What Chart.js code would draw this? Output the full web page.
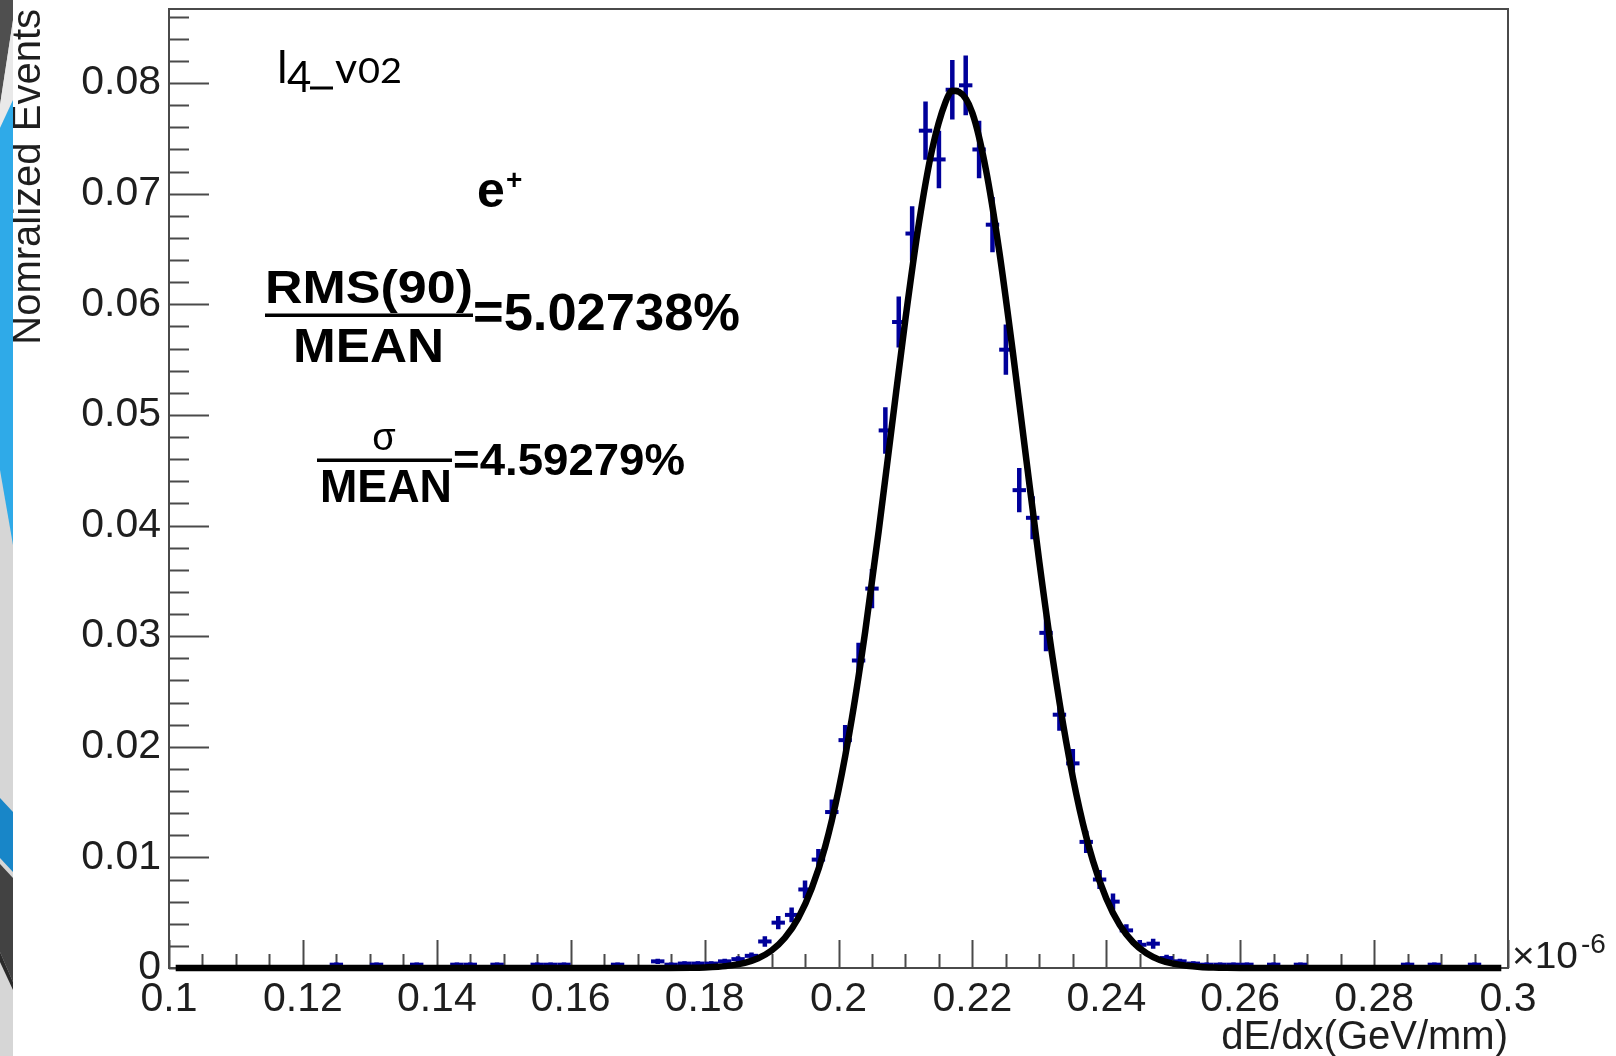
<!DOCTYPE html>
<html>
<head>
<meta charset="utf-8">
<title>dE/dx e+ l4_v02</title>
<script src="https://cdn.jsdelivr.net/npm/chart.js@4.4.1/dist/chart.umd.min.js"></script>
<style>
  html, body { margin: 0; padding: 0; background: #fff; }
  #wrap { position: relative; width: 1616px; height: 1056px; }
  #deco { position: absolute; left: 0; top: 0; }
</style>
</head>
<body>
<div id="wrap">
  <canvas id="myChart" width="1616" height="1056"></canvas>
  <!-- slide background strip on the left -->
  <svg id="deco" width="13" height="1056">
    <rect x="0" y="0" width="13" height="1056" fill="#d6d6d6"/>
    <polygon points="0,0 13,0 13,20 0,105" fill="#4f4f4f"/>
    <polygon points="13,20 13,100 0,128 0,105" fill="#e9e9e9"/>
    <polygon points="13,100 13,545 0,470 0,128" fill="#2faae8"/>
    <polygon points="0,798 13,812 13,872 0,858" fill="#1886c8"/>
    <polygon points="0,864 13,878 13,982 0,952" fill="#424242"/>
    <polygon points="0,952 13,982 13,990 0,962" fill="#2b2b2b"/>
  </svg>
</div>
<script>
// histogram bins (bin width 0.002, x in 10^-6 GeV/mm), only non-empty bins
const binCenters = [0.125, 0.131, 0.137, 0.143, 0.145, 0.149, 0.155, 0.157, 0.159, 0.167,
  0.173, 0.175, 0.177, 0.179, 0.181, 0.183, 0.185, 0.187, 0.189, 0.191,
  0.193, 0.195, 0.197, 0.199, 0.201, 0.203, 0.205, 0.207, 0.209, 0.211,
  0.213, 0.215, 0.217, 0.219, 0.221, 0.223, 0.225, 0.227, 0.229, 0.231,
  0.233, 0.235, 0.237, 0.239, 0.241, 0.243, 0.245, 0.247, 0.249, 0.251,
  0.253, 0.255, 0.257, 0.259, 0.261, 0.265, 0.269, 0.285, 0.289, 0.295];
const binValues = [0.0003, 0.0003, 0.0003, 0.0003, 0.0003, 0.0003, 0.0003, 0.0003, 0.0003, 0.0003,
  0.0006, 0.0003, 0.0004, 0.0004, 0.0004, 0.0006, 0.0008, 0.0011, 0.0024, 0.0041,
  0.0048, 0.0071, 0.0098, 0.0141, 0.0206, 0.0278, 0.0343, 0.0486, 0.0584, 0.0664,
  0.0757, 0.0731, 0.0794, 0.0798, 0.0740, 0.0672, 0.0559, 0.0432, 0.0407, 0.0303,
  0.0229, 0.0185, 0.0114, 0.0080, 0.0060, 0.0034, 0.0021, 0.0022, 0.0009, 0.0006,
  0.0004, 0.0003, 0.0003, 0.0003, 0.0003, 0.0003, 0.0003, 0.0003, 0.0003, 0.0003];
const binErrors = [0.0002, 0.0002, 0.0002, 0.0002, 0.0002, 0.0002, 0.0002, 0.0002, 0.0002, 0.0002,
  0.00023, 0.0002, 0.0002, 0.0002, 0.0002, 0.00023, 0.00027, 0.0003, 0.00047, 0.0006,
  0.00066, 0.0008, 0.00095, 0.00114, 0.00138, 0.0016, 0.00178, 0.0021, 0.0023, 0.00247,
  0.00264, 0.0026, 0.0027, 0.0027, 0.0026, 0.0025, 0.00227, 0.002, 0.00194, 0.00167,
  0.00145, 0.0013, 0.001, 0.00086, 0.00074, 0.00056, 0.00044, 0.00045, 0.00029, 0.00023,
  0.0002, 0.0002, 0.0002, 0.0002, 0.0002, 0.0002, 0.0002, 0.0002, 0.0002, 0.0002];

// gaussian fit curve
const fitX = [0.101, 0.170, 0.174, 0.178, 0.180, 0.182, 0.184, 0.186, 0.188, 0.190,
  0.192, 0.194, 0.196, 0.198, 0.200, 0.202, 0.204, 0.206, 0.208, 0.210,
  0.212, 0.214, 0.216, 0.217, 0.218, 0.220, 0.222, 0.224, 0.226, 0.228,
  0.230, 0.232, 0.234, 0.236, 0.238, 0.240, 0.242, 0.244, 0.246, 0.248,
  0.250, 0.252, 0.254, 0.256, 0.258, 0.260, 0.264, 0.299];
const fitY = [0, 0, 0.000005, 0.000025, 0.000056, 0.00012, 0.00024, 0.00047, 0.00088, 0.00158,
  0.00273, 0.00452, 0.00719, 0.01096, 0.01606, 0.02258, 0.03047, 0.03949, 0.04913, 0.05868,
  0.06728, 0.07405, 0.0783, 0.0793, 0.0792, 0.07729, 0.07225, 0.06485, 0.05587, 0.04622,
  0.0367, 0.02797, 0.02048, 0.01438, 0.0097, 0.00628, 0.0039, 0.00233, 0.00133, 0.00073,
  0.00039, 0.0002, 0.000095, 0.000045, 0.00002, 0.000009, 0.000001, 0];

const xTickValues = [0.1, 0.12, 0.14, 0.16, 0.18, 0.2, 0.22, 0.24, 0.26, 0.28, 0.3];
const yTickValues = [0, 0.01, 0.02, 0.03, 0.04, 0.05, 0.06, 0.07, 0.08];

const FONT = "'Liberation Sans', Arial, Helvetica, sans-serif";
const BLUE = '#00009a';
const AXIS = '#4a4a4a';
const TEXT = '#1e1e1e';

Chart.defaults.font.family = FONT;

// text with horizontal stretch to a target width (ROOT latex look)
function txt(ctx, s, x, y, font, align, w) {
  ctx.save();
  ctx.font = font;
  ctx.textBaseline = 'alphabetic';
  ctx.textAlign = align;
  const m = ctx.measureText(s).width;
  ctx.translate(x, y);
  ctx.scale(w ? w / m : 1, 1);
  ctx.fillText(s, 0, 0);
  ctx.restore();
}

const rootStyle = {
  id: 'rootStyle',
  beforeDatasetsDraw(chart) {
    const { ctx, chartArea: a, scales: { x, y } } = chart;
    ctx.save();
    ctx.strokeStyle = AXIS;
    ctx.lineWidth = 2;
    ctx.strokeRect(a.left, a.top, a.right - a.left, a.bottom - a.top);

    // inward ticks, major + minor
    ctx.beginPath();
    for (let i = 0; i <= 43; i++) {
      const py = Math.round(y.getPixelForValue(i * 0.002)) + 0.5;
      ctx.moveTo(a.left, py);
      ctx.lineTo(a.left + (i % 5 === 0 ? 40 : 20), py);
    }
    for (let i = 0; i <= 40; i++) {
      const px = Math.round(x.getPixelForValue(0.1 + i * 0.005)) + 0.5;
      ctx.moveTo(px, a.bottom);
      ctx.lineTo(px, a.bottom - (i % 4 === 0 ? 28 : 14));
    }
    ctx.stroke();

    // vertical error bars
    ctx.beginPath();
    ctx.rect(a.left, a.top, a.right - a.left, a.bottom - a.top);
    ctx.clip();
    ctx.strokeStyle = BLUE;
    ctx.lineWidth = 4.5;
    ctx.beginPath();
    binCenters.forEach((c, i) => {
      const px = x.getPixelForValue(c);
      ctx.moveTo(px, y.getPixelForValue(binValues[i] - binErrors[i]));
      ctx.lineTo(px, y.getPixelForValue(binValues[i] + binErrors[i]));
    });
    ctx.stroke();
    ctx.restore();
  },
  afterDraw(chart) {
    const { ctx } = chart;
    ctx.save();
    ctx.fillStyle = '#000';

    // l4_v02 (slide label)
    const LATO = "Lato, 'Open Sans', sans-serif";
    txt(ctx, 'l', 277, 83, '45px ' + LATO, 'left');
    txt(ctx, '4', 287, 92, '42px ' + LATO, 'left');
    ctx.fillRect(310, 86.5, 23, 3);
    txt(ctx, 'v', 335, 83, '43px ' + LATO, 'left');
    txt(ctx, '02', 358, 83, '34px ' + LATO, 'left', 44);

    // e+
    txt(ctx, 'e', 477, 207, 'bold 50px ' + FONT, 'left');
    txt(ctx, '+', 506, 189, 'bold 28px ' + FONT, 'left');

    // RMS(90)/MEAN
    txt(ctx, 'RMS(90)', 369, 303, 'bold 47px ' + FONT, 'center', 208);
    ctx.fillRect(265, 313.5, 208, 3.5);
    txt(ctx, 'MEAN', 368.5, 362, 'bold 48px ' + FONT, 'center', 151);
    txt(ctx, '=5.02738%', 473, 330, 'bold 51px ' + FONT, 'left', 267);

    // sigma/MEAN
    txt(ctx, 'σ', 384, 450, '38px ' + FONT, 'center');
    ctx.fillRect(317, 458.5, 135, 3.5);
    txt(ctx, 'MEAN', 386, 502, 'bold 46px ' + FONT, 'center', 132);
    txt(ctx, '=4.59279%', 453, 475, 'bold 45px ' + FONT, 'left', 232);

    // axis exponent
    ctx.fillStyle = TEXT;
    txt(ctx, '×10', 1512, 968, '36px ' + FONT, 'left', 66);
    txt(ctx, '-6', 1581, 953, '28px ' + FONT, 'left');
    ctx.restore();
  }
};

const chartArea = document.getElementById('myChart').getContext('2d');

new Chart(chartArea, {
  type: 'scatter',
  data: {
    datasets: [
      {
        // fit curve on top
        label: 'fit',
        data: fitX.map((v, i) => ({ x: v, y: fitY[i] })),
        showLine: true,
        borderColor: '#000',
        borderWidth: 6.5,
        pointRadius: 0,
        cubicInterpolationMode: 'monotone',
        clip: 8,
      },
      {
        label: 'dE/dx',
        data: binCenters.map((v, i) => ({ x: v, y: binValues[i] })),
        showLine: false,
        pointStyle: 'line',
        pointRadius: (c) => {
          const sx = c.chart.scales.x;
          return (sx.getPixelForValue(0.102) - sx.getPixelForValue(0.1)) / 2;
        },
        pointBorderWidth: 4,
        pointBorderColor: BLUE,
        pointBackgroundColor: BLUE,
        clip: 4,
      },
    ],
  },
  options: {
    responsive: false,
    devicePixelRatio: 1,
    animation: false,
    layout: { padding: { left: 0, right: 108, top: 9, bottom: 0 } },
    plugins: {
      legend: { display: false },
      tooltip: { enabled: false },
    },
    scales: {
      x: {
        type: 'linear',
        position: 'bottom',
        min: 0.1,
        max: 0.3,
        grid: { display: false, drawTicks: false },
        border: { display: false },
        ticks: {
          stepSize: 0.02,
          includeBounds: false,
          autoSkip: false,
          maxRotation: 0,
          padding: 7,
          color: TEXT,
          font: { size: 41 },
          callback: (v) => String(+Number(v).toFixed(3)),
        },
        afterBuildTicks: (s) => { s.ticks = xTickValues.map((v) => ({ value: v })); },
        title: {
          display: true,
          text: 'dE/dx(GeV/mm)',
          align: 'end',
          color: TEXT,
          font: { size: 40, lineHeight: 0.9 },
          padding: { top: 0, bottom: 0 },
        },
        afterFit: (s) => { s.height = 88; s.paddingLeft = 0; s.paddingRight = 0; },
      },
      y: {
        type: 'linear',
        min: 0,
        max: 0.0867,
        grid: { display: false, drawTicks: false },
        border: { display: false },
        ticks: {
          stepSize: 0.01,
          includeBounds: false,
          autoSkip: false,
          padding: 8,
          color: TEXT,
          font: { size: 41 },
          callback: (v) => (v === 0 ? '0' : String(+Number(v).toFixed(3))),
        },
        afterBuildTicks: (s) => { s.ticks = yTickValues.map((v) => ({ value: v })); },
        title: {
          display: true,
          text: 'Nomralized Events',
          align: 'end',
          color: TEXT,
          font: { size: 40 },
          padding: { top: 5, bottom: 0 },
        },
        afterFit: (s) => { s.width = 169; s.paddingTop = 0; s.paddingBottom = 0; },
      },
    },
  },
  plugins: [rootStyle],
});
</script>
</body>
</html>
